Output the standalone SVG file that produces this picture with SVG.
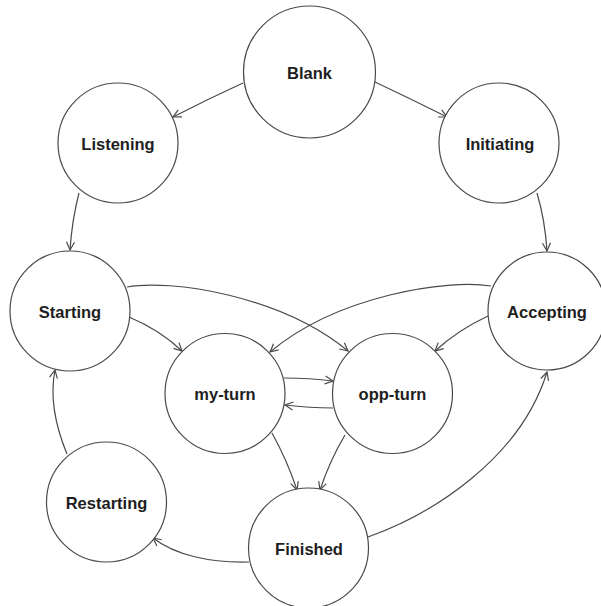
<svg xmlns="http://www.w3.org/2000/svg" width="601" height="606" viewBox="0 0 601 606">
  <style>
    .state circle { fill: #ffffff; stroke: #4a4a4a; stroke-width: 1.2; }
    .state text { font-family: "Liberation Sans", Arial, sans-serif; font-weight: bold; font-size: 16.5px; fill: #1e1e1e; text-anchor: middle; }
    .edge { fill: none; stroke: #4a4a4a; stroke-width: 1.2; marker-end: url(#arrow); }
  </style>
  <defs>
    <marker id="arrow" markerUnits="userSpaceOnUse" markerWidth="12" markerHeight="12" refX="9" refY="5" orient="auto">
      <path d="M1,1 L9,5 L1,9" fill="none" stroke="#4a4a4a" stroke-width="1.2"/>
    </marker>
  </defs>
  <rect width="601" height="606" fill="#ffffff"/>

  <g id="connectors">
    <path class="edge" d="M243,83 Q208,99 173,117"/>
    <path class="edge" d="M375,82 Q411,99 447,117"/>
    <path class="edge" d="M79,193 Q72,220 70,250"/>
    <path class="edge" d="M537,193 Q545,220 547,251"/>
    <path class="edge" d="M129,317 Q160,330 182,351"/>
    <path class="edge" d="M488,316 Q458,330 435,351"/>
    <path class="edge" d="M127,287 C170,279 280,295 348,351"/>
    <path class="edge" d="M491,286 C448,279 338,295 270,352"/>
    <path class="edge" d="M284,378 Q310,378 333,381"/>
    <path class="edge" d="M333,408 Q310,408 285,405"/>
    <path class="edge" d="M272,433 Q287,460 297,490"/>
    <path class="edge" d="M345,435 Q330,460 320,490"/>
    <path class="edge" d="M368,537 C430,515 520,460 547,372"/>
    <path class="edge" d="M249,562 C210,563 175,555 153,538"/>
    <path class="edge" d="M67,454 C55,425 50,395 55,370"/>
  </g>

  <g id="blank" class="state">
    <circle cx="309.5" cy="72" r="66"/>
    <text x="309.5" y="78.5">Blank</text>
  </g>
  <g id="listening" class="state">
    <circle cx="118" cy="143" r="60"/>
    <text x="118" y="149.5">Listening</text>
  </g>
  <g id="initiating" class="state">
    <circle cx="499" cy="143" r="60"/>
    <text x="500" y="149.5">Initiating</text>
  </g>
  <g id="starting" class="state">
    <circle cx="70" cy="311" r="60"/>
    <text x="70" y="317.5">Starting</text>
  </g>
  <g id="accepting" class="state">
    <circle cx="547" cy="311" r="59"/>
    <text x="547" y="317.5">Accepting</text>
  </g>
  <g id="my-turn" class="state">
    <circle cx="225" cy="393.5" r="60"/>
    <text x="225" y="400">my-turn</text>
  </g>
  <g id="opp-turn" class="state">
    <circle cx="392.5" cy="393.5" r="60"/>
    <text x="392.5" y="400">opp-turn</text>
  </g>
  <g id="restarting" class="state">
    <circle cx="106.5" cy="502" r="60"/>
    <text x="106.5" y="508.5">Restarting</text>
  </g>
  <g id="finished" class="state">
    <circle cx="308.5" cy="548" r="60"/>
    <text x="309" y="554.5">Finished</text>
  </g>
</svg>
